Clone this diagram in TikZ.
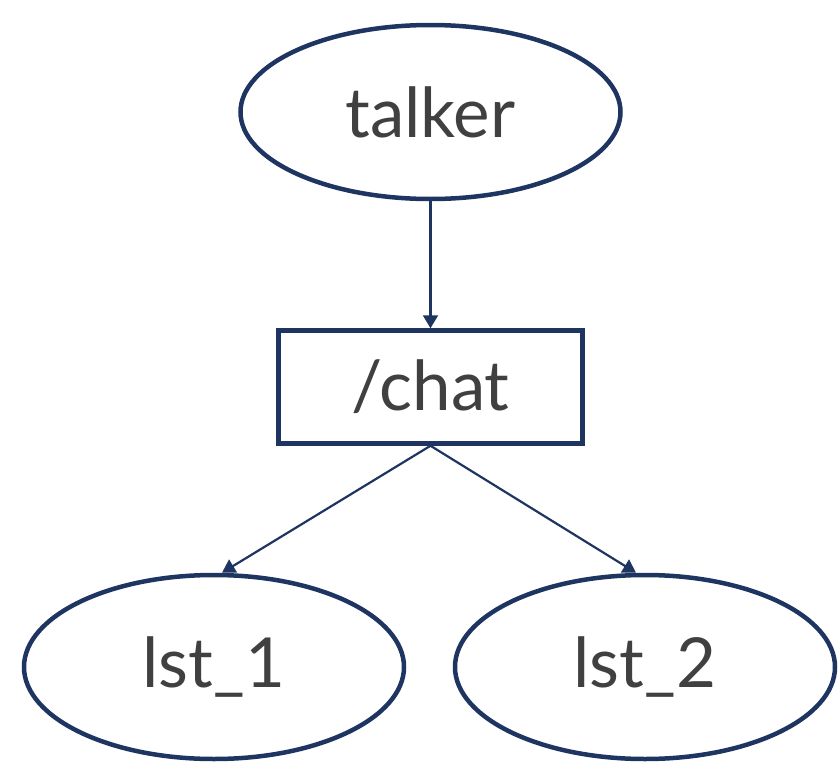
\documentclass[tikz,border=0pt]{standalone}
\usepackage{fontspec}
\setmainfont{Lato}
\usetikzlibrary{shapes.geometric,arrows.meta}
\definecolor{navy}{HTML}{1F3561}
\definecolor{ink}{HTML}{404040}
\begin{document}
\begin{tikzpicture}[x=1pt,y=-1pt,
  every node/.style={text=ink,font=\fontsize{69}{72}\selectfont,inner sep=0pt},
  topic/.style={ellipse,draw=navy,line width=4.5pt,minimum width=380pt,minimum height=174pt},
  leaf/.style={ellipse,draw=navy,line width=4.5pt,minimum width=380pt,minimum height=184pt},
  hub/.style={rectangle,draw=navy,line width=4.5pt,minimum width=304pt,minimum height=113pt},
  link/.style={draw=navy,line width=2.2pt,-{Triangle[length=13pt,width=15pt]}}]
\useasboundingbox (0,0) rectangle (839,763);
\node[topic] (talker) at (430.5,112) {talker};
\node[hub] (chat) at (430.5,387) {/chat};
\node[leaf] (l1) at (214,667) {lst\_1};
\node[leaf] (l2) at (645,667) {lst\_2};
\draw[link] (talker.south) -- (chat.north);
\draw[link] (chat.south) -- ([xshift=8pt]l1.north);
\draw[link] (chat.south) -- ([xshift=-9pt]l2.north);
\end{tikzpicture}
\end{document}
